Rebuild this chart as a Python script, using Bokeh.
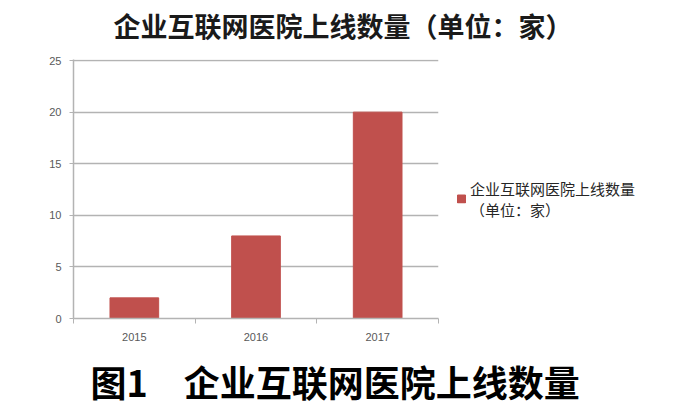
from bokeh.plotting import figure
from bokeh.models import Range1d, FixedTicker, Title, Legend, LegendItem
from bokeh.embed import file_html
from bokeh.resources import INLINE

years = ["2015", "2016", "2017"]
counts = [2, 8, 20]
y_ticks = [0, 5, 10, 15, 20, 25]
title_text = "企业互联网医院上线数量（单位：家）"
legend_text = "企业互联网医院上线数量\n（单位：家）"
caption_text = "图1　企业互联网医院上线数量"

xs = [i + 0.5 for i in range(len(years))]
cjk = "Noto Sans CJK SC"

p = figure(frame_width=365, frame_height=259, output_backend="svg", toolbar_location=None,
           x_range=Range1d(0, len(years)), y_range=Range1d(0, 25.1),
           min_border_left=73, min_border_right=242, min_border_top=59, min_border_bottom=70)
p.outline_line_color = None

bars = p.vbar(x=xs, top=counts, width=0.4, fill_color="#C0504D", line_color="#C0504D")

grid_col = "#b3b3b3"
p.xgrid.visible = False
p.ygrid.ticker = FixedTicker(ticks=y_ticks)
p.ygrid.grid_line_color = grid_col
p.ygrid.grid_line_width = 1.5

p.xaxis.ticker = FixedTicker(ticks=xs, minor_ticks=list(range(len(years) + 1)))
p.xaxis.major_label_overrides = {x: y for x, y in zip(xs, years)}
p.xaxis.major_tick_out = 0
p.xaxis.major_tick_in = 0
p.xaxis.minor_tick_out = 5
p.xaxis.minor_tick_in = 0
p.xaxis.minor_tick_line_color = grid_col
p.xaxis.axis_line_color = grid_col
p.xaxis.axis_line_width = 1.5
p.xaxis.major_label_standoff = 9
p.xaxis.major_label_text_font_size = "11px"
p.xaxis.major_label_text_color = "#595959"
p.xaxis.major_label_text_font = "Liberation Sans"

p.yaxis.ticker = FixedTicker(ticks=y_ticks)
p.yaxis.minor_tick_line_color = None
p.yaxis.major_tick_out = 4
p.yaxis.major_tick_in = 0
p.yaxis.major_tick_line_color = grid_col
p.yaxis.axis_line_color = grid_col
p.yaxis.axis_line_width = 1.5
p.yaxis.major_label_standoff = 8
p.yaxis.major_label_text_font_size = "11px"
p.yaxis.major_label_text_color = "#595959"
p.yaxis.major_label_text_font = "Liberation Sans"

p.title.text = title_text
p.title.align = "left"
p.title.offset = 40
p.title.standoff = 4
p.title.text_font = cjk
p.title.text_font_size = "27px"
p.title.text_font_style = "bold"
p.title.text_color = "#1a1a1a"

# thin spacer between the title and the plot area
p.add_layout(Title(text=" ", text_font=cjk, text_font_size="8px", standoff=0), "above")

p.add_layout(Title(text=caption_text, align="left", offset=17, standoff=18, text_font=cjk,
                   text_font_size="36px", text_font_style="bold", text_color="black"), "below")

legend = Legend(items=[LegendItem(label=legend_text, renderers=[bars])],
                location="center_left", margin=18, padding=10,
                title=" ", title_text_font=cjk, title_text_font_size="12px", title_standoff=2,
                border_line_color=None, background_fill_alpha=0,
                glyph_width=10, glyph_height=10, label_standoff=4,
                label_text_font=cjk, label_text_font_size="15px", label_text_color="#262626")
p.add_layout(legend, "right")

open("out.html", "w").write(file_html(p, INLINE))
